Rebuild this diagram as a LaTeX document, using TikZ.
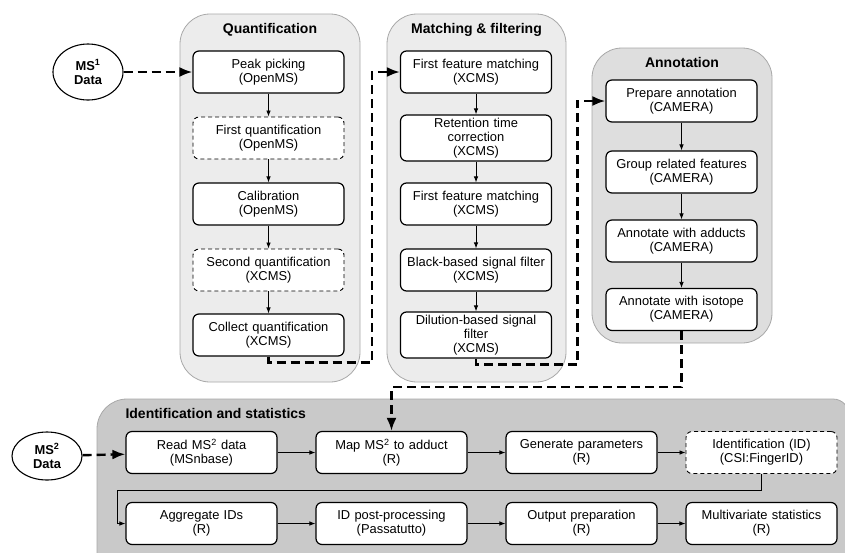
\documentclass[tikz,border=0pt]{standalone}
\usepackage{fontspec}
\setmainfont{Liberation Sans}
\usetikzlibrary{arrows.meta,shapes.geometric}

\definecolor{panelA}{HTML}{ECECEC}
\definecolor{panelB}{HTML}{DEDEDE}
\definecolor{panelC}{HTML}{C9C9C9}
\definecolor{panelline}{HTML}{A8A8A8}

\begin{document}
\begin{tikzpicture}[%
    x=1pt,y=-1pt,
    font=\fontsize{12.9}{14}\selectfont,
    block/.style={
      rectangle,
      draw=black,
      line width=1.2pt,
      fill=white,
      text width=145pt,
      align=center,
      rounded corners=6pt,
      inner sep=3pt,
      minimum height=42pt
    },
    dblock/.style={
      block,
      line width=0.9pt,
      dash pattern=on 4pt off 3pt
    },
    panel/.style={
      draw=panelline,
      line width=0.8pt,
      rounded corners=30pt
    },
    title/.style={
      font=\fontsize{14}{16}\selectfont\bfseries
    },
    cloud/.style={
      draw=black,
      line width=1.1pt,
      ellipse,
      fill=white,
      align=center,
      font=\fontsize{12.9}{14}\selectfont\bfseries,
      inner sep=0pt
    },
    line/.style={
      draw,
      line width=0.8pt,
      -{Latex[length=6pt,width=4.5pt]}
    },
    dline/.style={
      draw,
      line width=2.4pt,
      dash pattern=on 9pt off 5pt,
      -{Latex[length=13pt,width=10pt]}
    }
  ]
    \clip (0,0) rectangle (845,552);
    \useasboundingbox (0,0) rectangle (845,552);

    % panels
    \draw[panel,fill=panelA] (180,14) rectangle (360,382);
    \draw[panel,fill=panelA] (387,14) rectangle (566,382);
    \draw[panel,fill=panelB] (592,48) rectangle (772,343);
    \draw[panel,fill=panelC] (97,600) -- (97,399) [rounded corners=16pt] -- (849,399) [sharp corners] -- (849,600) -- cycle;

    \node[title] (tquant) at (270,30) {Quantification};
    \node[title] (tmatch) at (476.5,30) {Matching \& filtering};
    \node[title] (tannot) at (682,62) {Annotation};
    \node[title,anchor=west] (tident) at (122,413) {Identification and statistics};

    % inputs
    \draw (88,72) node[cloud,minimum width=70pt,minimum height=56pt] (ms1) {MS\textsuperscript{1}\\Data};
    \draw (47,456) node[cloud,minimum width=70pt,minimum height=48pt] (ms2) {MS\textsuperscript{2}\\Data};

    % quantification
    \draw (268.5,72) node[block] (pp) {Peak picking\\(OpenMS)};
    \draw (268.5,138) node[dblock] (fq) {First quantification\\(OpenMS)};
    \draw (268.5,204) node[block] (cal) {Calibration\\(OpenMS)};
    \draw (268.5,270) node[dblock] (sq) {Second quantification\\(XCMS)};
    \draw (268.5,335) node[block] (cq) {Collect quantification\\(XCMS)};

    % matching and filtering
    \draw (476,72) node[block] (fm1) {First feature matching\\(XCMS)};
    \draw (476,138) node[block] (rt) {Retention time\\correction\\(XCMS)};
    \draw (476,204) node[block] (fm2) {First feature matching\\(XCMS)};
    \draw (476,270) node[block] (blk) {Black-based signal filter\\(XCMS)};
    \draw (476,335) node[block] (dil) {Dilution-based signal\\filter\\(XCMS)};

    % annotation
    \draw (681.5,101) node[block] (prep) {Prepare annotation\\(CAMERA)};
    \draw (681.5,172) node[block] (grp) {Group related features\\(CAMERA)};
    \draw (681.5,241) node[block] (add) {Annotate with adducts\\(CAMERA)};
    \draw (681.5,309.5) node[block] (iso) {Annotate with isotope\\(CAMERA)};

    % identification and statistics
    \draw (201.5,452.5) node[block] (read) {Read MS\textsuperscript{2} data\\(MSnbase)};
    \draw (391.5,452.5) node[block] (map) {Map MS\textsuperscript{2} to adduct\\(R)};
    \draw (581.5,452.5) node[block] (gen) {Generate parameters\\(R)};
    \draw (761.5,452.5) node[dblock] (ident) {Identification (ID)\\(CSI:FingerID)};
    \draw (201.5,523.5) node[block] (agg) {Aggregate IDs\\(R)};
    \draw (391.5,523.5) node[block] (post) {ID post-processing\\(Passatutto)};
    \draw (581.5,523.5) node[block] (out) {Output preparation\\(R)};
    \draw (761.5,523.5) node[block] (multi) {Multivariate statistics\\(R)};

    % flow inside panels
    \path[line] (pp) -- (fq);
    \path[line] (fq) -- (cal);
    \path[line] (cal) -- (sq);
    \path[line] (sq) -- (cq);
    \path[line] (fm1) -- (rt);
    \path[line] (rt) -- (fm2);
    \path[line] (fm2) -- (blk);
    \path[line] (blk) -- (dil);
    \path[line] (prep) -- (grp);
    \path[line] (grp) -- (add);
    \path[line] (add) -- (iso);
    \path[line] (read) -- (map);
    \path[line] (map) -- (gen);
    \path[line] (gen) -- (ident);
    \path[line] (ident.south) -- ++(0,16) -| ([xshift=-8pt]agg.west) -- (agg.west);
    \path[line] (agg) -- (post);
    \path[line] (post) -- (out);
    \path[line] (out) -- (multi);

    % flow between panels
    \path[dline] (ms1) -- (pp);
    \path[dline] (cq.south) -- ++(0,6) -| ([xshift=-28pt]fm1.west) -- (fm1.west);
    \path[dline] (dil.south) -- ++(0,6) -| ([xshift=-28pt]prep.west) -- (prep.west);
    \path[dline] (iso.south) -- ++(0,56) -| (map.north);
    \path[dline] (ms2) -- (read);

  \end{tikzpicture}
\end{document}
